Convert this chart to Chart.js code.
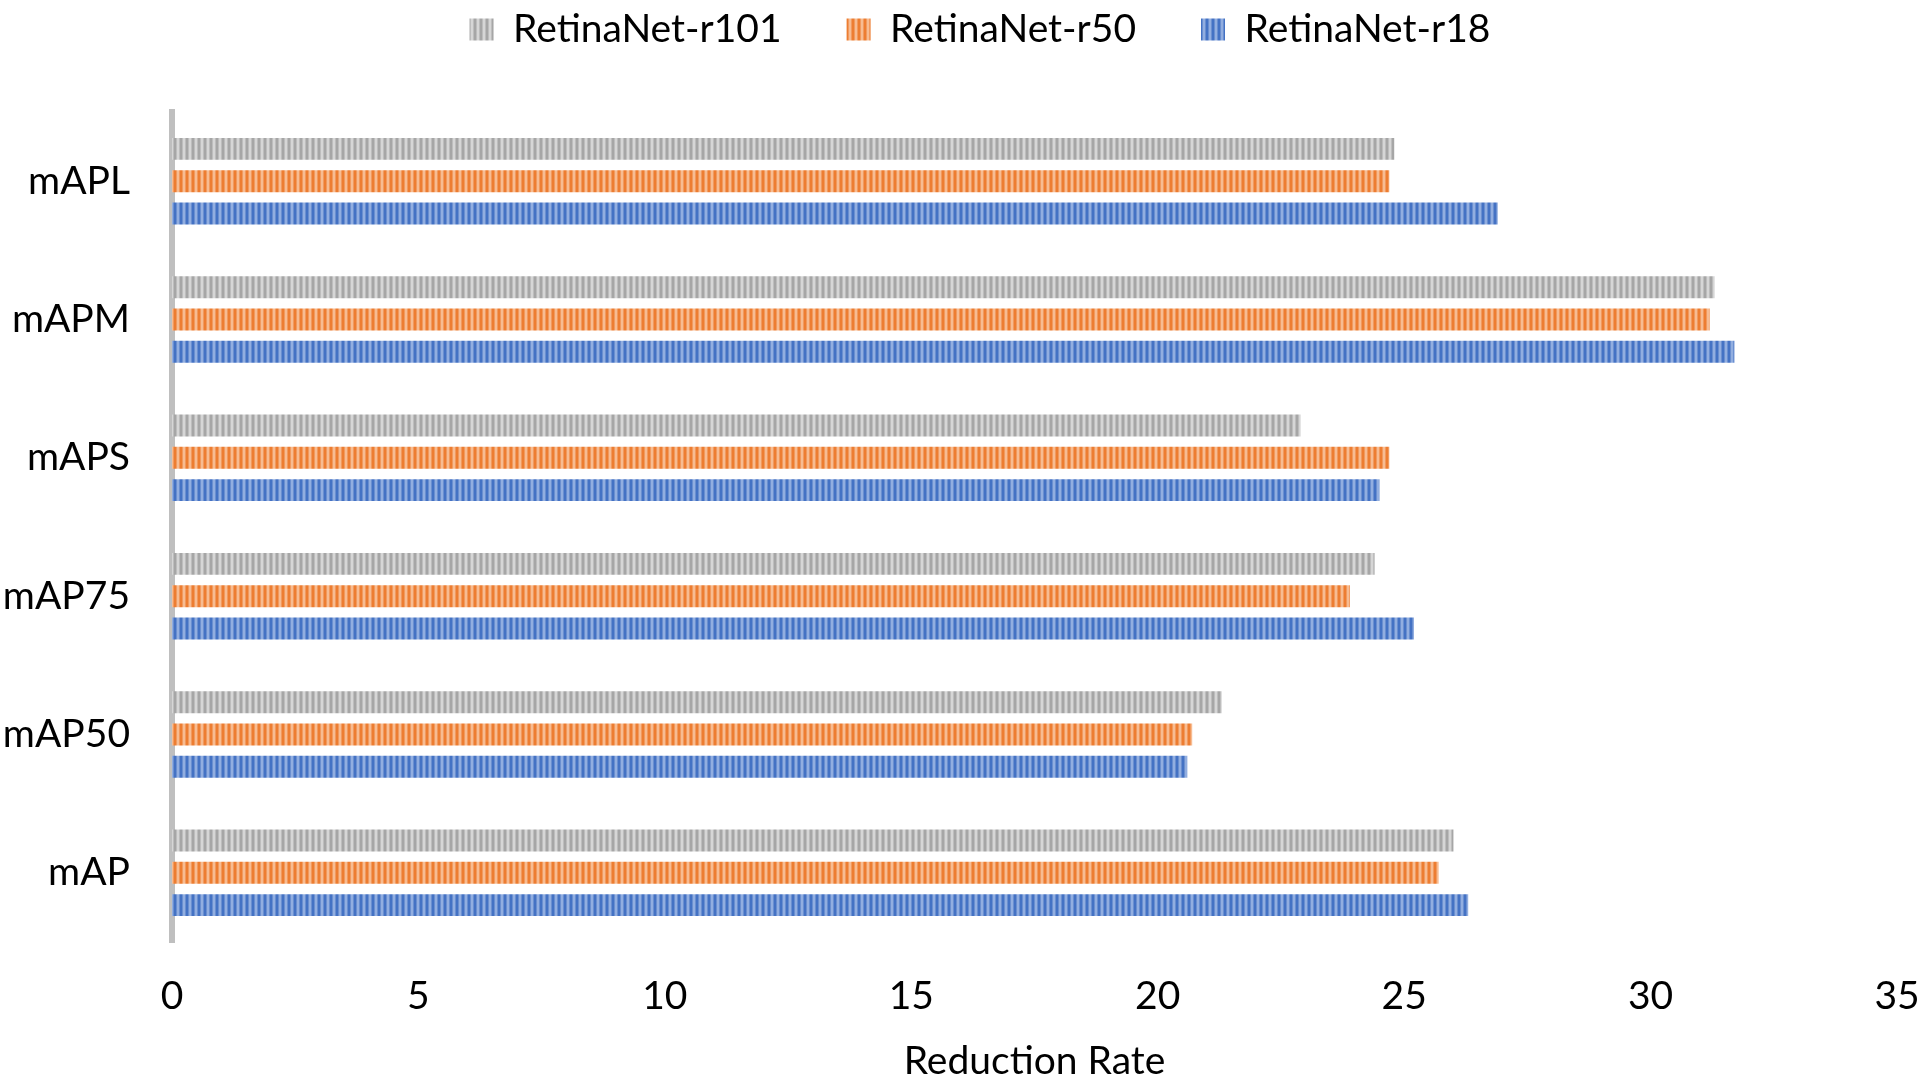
<!DOCTYPE html>
<html>
<head>
<meta charset="utf-8">
<title>Reduction Rate</title>
<script src="https://cdn.jsdelivr.net/npm/chart.js@4.4.1/dist/chart.umd.min.js"></script>
<style>
    html, body { margin: 0; padding: 0; background: #fff; }
    #wrap { width: 1923px; height: 1085px; }
</style>
</head>
<body>
<div id="wrap"><canvas id="chart" width="1923" height="1085"></canvas></div>
<script>
// Data
const categories = ['mAPL', 'mAPM', 'mAPS', 'mAP75', 'mAP50', 'mAP'];
const seriesNames = ['RetinaNet-r101', 'RetinaNet-r50', 'RetinaNet-r18'];
const r101Values = [24.8, 31.3, 22.9, 24.4, 21.3, 26.0];
const r50Values = [24.7, 31.2, 24.7, 23.9, 20.7, 25.7];
const r18Values = [26.9, 31.7, 24.5, 25.2, 20.6, 26.3];
const xTickValues = [0, 5, 10, 15, 20, 25, 30, 35];
const xTitle = 'Reduction Rate';

// vertical stripe fill like the office pattern fills
function stripes(dark, mid, light) {
    const c = document.createElement('canvas');
    c.width = 6;
    c.height = 6;
    const g = c.getContext('2d');
    g.fillStyle = dark;
    g.fillRect(0, 0, 6, 6);
    g.fillStyle = mid;
    g.fillRect(2, 0, 1, 6);
    g.fillRect(5, 0, 1, 6);
    g.fillStyle = light;
    g.fillRect(3, 0, 2, 6);
    return g.createPattern(c, 'repeat');
}

const fills = [
    stripes('#a6a6a6', '#bdbdbd', '#d6d6d6'),
    stripes('#ed7d31', '#f19a5e', '#f7bc92'),
    stripes('#4472c4', '#6a8fd0', '#92aee0')
];

const font = { family: 'Lato, "Open Sans", sans-serif', size: 39 };

// legend: fixed height so the plot starts where the reference does,
// and its row nudged right like in the reference
const legendPlace = {
    id: 'legendPlace',
    beforeInit(chart) {
        const fit = chart.legend.fit;
        chart.legend.fit = function () {
            fit.call(this);
            this.height = 167;
        };
    },
    afterLayout(chart) {
        chart.legend.left = 37;
        chart.legend.right = 1923;
    }
};

const ctx = document.getElementById('chart').getContext('2d');
new Chart(ctx, {
    type: 'bar',
    data: {
        labels: categories,
        datasets: [r101Values, r50Values, r18Values].map((vals, i) => ({
            label: seriesNames[i],
            data: vals,
            backgroundColor: fills[i],
            borderWidth: 0,
            categoryPercentage: 0.7,
            barPercentage: 0.68
        }))
    },
    options: {
        indexAxis: 'y',
        responsive: false,
        animation: false,
        devicePixelRatio: 1,
        layout: { padding: { top: -55, left: 0, right: 0, bottom: 0 } },
        plugins: {
            legend: {
                position: 'top',
                labels: {
                    font: font,
                    color: '#000',
                    boxWidth: 24,
                    boxHeight: 22,
                    padding: 65
                }
            },
            tooltip: { enabled: false }
        },
        scales: {
            x: {
                min: 0,
                max: 35,
                afterBuildTicks: axis => { axis.ticks = xTickValues.map(v => ({ value: v })); },
                afterFit: axis => {
                    axis.height = 143;
                    axis.paddingRight = 26;
                },
                grid: { display: false, drawTicks: false },
                border: { display: false },
                ticks: { font: font, color: '#000', padding: 31, maxRotation: 0 },
                title: {
                    display: true,
                    text: xTitle,
                    font: font,
                    color: '#000',
                    padding: { top: 0, bottom: 0 }
                }
            },
            y: {
                z: 1,
                afterFit: axis => { axis.width = 172; },
                grid: { display: false, drawTicks: false },
                border: { display: true, color: '#bfbfbf', width: 6 },
                ticks: { font: font, color: '#000', padding: 42 }
            }
        }
    },
    plugins: [legendPlace]
});
</script>
</body>
</html>
